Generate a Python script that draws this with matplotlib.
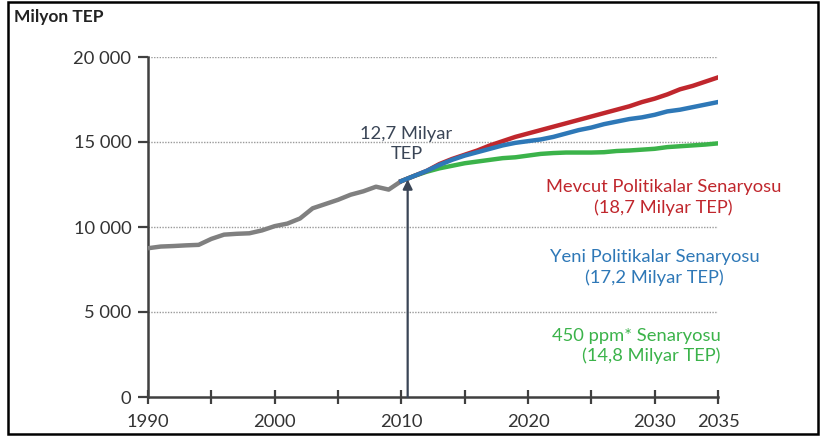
import numpy as np
import matplotlib.pyplot as plt
from matplotlib.patches import Rectangle

plt.rcParams['font.family'] = ['Lato', 'DejaVu Sans']

# historical consumption, Mtoe
hist_years = list(range(1990, 2011))
hist_vals = [8750, 8850, 8880, 8920, 8950, 9300, 9550, 9600, 9630, 9800, 10050,
             10200, 10500, 11100, 11350, 11600, 11900, 12100, 12370, 12200, 12700]

proj_years = list(range(2010, 2036))
current_policies = [12700, 13000, 13300, 13700, 14000, 14250, 14500, 14800, 15050, 15300,
                    15500, 15700, 15900, 16100, 16300, 16500, 16700, 16900, 17100, 17350,
                    17550, 17800, 18100, 18300, 18550, 18800]
new_policies = [12700, 13000, 13300, 13650, 13950, 14200, 14400, 14600, 14800, 14950,
                15050, 15150, 15300, 15500, 15700, 15850, 16050, 16200, 16350, 16450,
                16600, 16800, 16900, 17050, 17200, 17350]
ppm450 = [12700, 13000, 13250, 13450, 13600, 13750, 13850, 13950, 14050, 14100,
          14200, 14300, 14350, 14380, 14380, 14380, 14400, 14470, 14500, 14550,
          14600, 14700, 14750, 14800, 14850, 14920]

yticks = [0, 5000, 10000, 15000, 20000]
ytick_labels = ['0', '5 000', '10 000', '15 000', '20 000']
xticks = [1990, 2000, 2010, 2020, 2030, 2035]
xminor = [1995, 2005, 2015, 2025]

RED = '#c0272d'
BLUE = '#2e78b7'
GREEN = '#3bb34a'
GRAY = '#808080'
DARK = '#3a4556'
FS = 13.2

fig = plt.figure(figsize=(8.25, 4.41), dpi=100)
ax = fig.add_axes([148/825, 1-397/441, (718-148)/825, (397-57)/441])

for y in yticks[1:]:
    ax.plot([1990, 2035], [y, y], color='#9a9a9a', lw=1.0, ls=(0, (1, 1)), zorder=1)

ax.plot(hist_years, hist_vals, color=GRAY, lw=3.2, solid_capstyle='butt', zorder=3)
ax.plot(proj_years, current_policies, color=RED, lw=3.2, zorder=3)
ax.plot(proj_years, new_policies, color=BLUE, lw=3.2, zorder=4)
ax.plot(proj_years, ppm450, color=GREEN, lw=3.2, zorder=2)

# arrow pointing at the 2010 level
ax.annotate('', xy=(2010.5, 12800), xytext=(2010.5, 0),
            arrowprops=dict(arrowstyle='-|>', color=DARK, lw=1.6, mutation_scale=14,
                            shrinkA=0, shrinkB=0), zorder=5)
ax.text(2010.4, 14900, '12,7 Milyar\nTEP', ha='center', va='center', color=DARK,
        fontsize=FS, linespacing=1.3)

ax.text(2030.7, 11750, 'Mevcut Politikalar Senaryosu\n(18,7 Milyar TEP)', ha='center',
        va='center', color=RED, fontsize=FS, linespacing=1.3)
ax.text(2030.0, 7600, 'Yeni Politikalar Senaryosu\n(17,2 Milyar TEP)', ha='center',
        va='center', color=BLUE, fontsize=FS, linespacing=1.3)
ax.text(2035.2, 3000, '450 ppm* Senaryosu\n(14,8 Milyar TEP)', ha='right',
        va='center', color=GREEN, fontsize=FS, linespacing=1.3, multialignment='right')

ax.set_xlim(1990, 2035)
ax.set_ylim(0, 20000)
ax.set_yticks(yticks)
ax.set_yticklabels(ytick_labels)
ax.set_xticks(xticks)
ax.set_xticks(xminor, minor=True)
for s in ['top', 'right']:
    ax.spines[s].set_visible(False)
for s in ['left', 'bottom']:
    ax.spines[s].set_color('#404040')
    ax.spines[s].set_linewidth(1.8)
ax.tick_params(axis='y', length=7, width=1.6, color='#404040', labelsize=FS,
               labelcolor='#333333', pad=5)
ax.tick_params(axis='x', which='both', direction='inout', length=10, width=1.6,
               color='#404040', labelsize=FS, labelcolor='#333333', pad=7)
ax.patch.set_visible(False)

fig.text(14/825, 1-17/441, 'Milyon TEP', ha='left', va='center', fontsize=12.5,
         fontweight='bold', color='#222222')

fig.patches.append(Rectangle((8/825, 1-434/441), (818-8)/825, (434-2)/441,
                             transform=fig.transFigure, fill=False,
                             edgecolor='black', lw=1.8))

fig.savefig('out.png', dpi=100)
